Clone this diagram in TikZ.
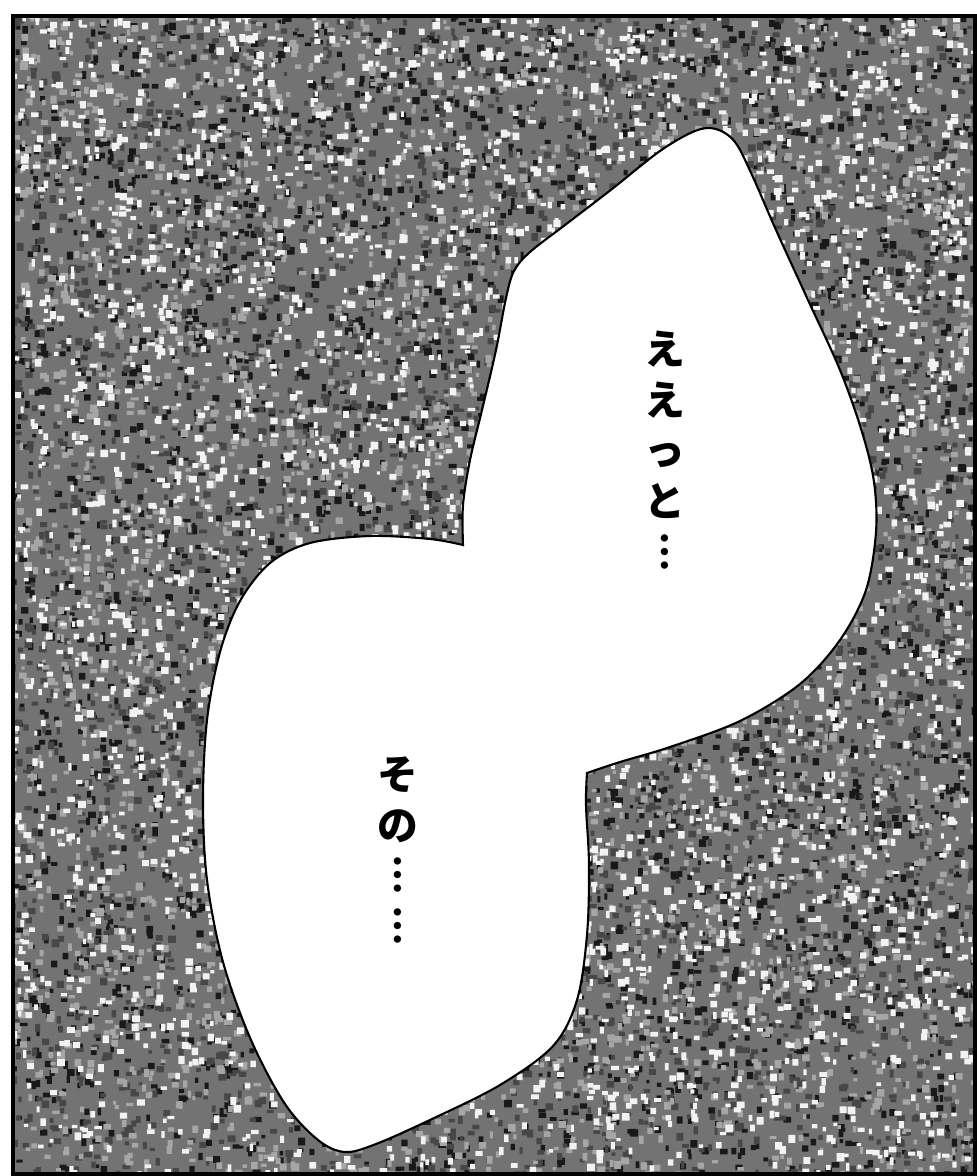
\documentclass[tikz,border=0pt]{standalone}
\usepackage{fontspec}
\newfontfamily\cjkfont{Noto Sans CJK JP}
\usetikzlibrary{calc}
\tikzset{%
  % Specifications for style of panel and bubbles:
        panel/.style = {draw=black, line width=2.2pt, fill=black!55},
        bubble/.style = {draw=black, line width=1.5pt, fill=white},
   speechText/.style = {align=center, inner sep=0pt,
                        font=\cjkfont\bfseries\fontsize{29}{36}\selectfont},
}

\begin{document}
\begin{tikzpicture}[x=0.025cm, y=-0.025cm]
  \useasboundingbox (0,0) rectangle (977,1176);

  % Panel with screen tone
  \coordinate (panelNW) at (13,16);
  \coordinate (panelSE) at (975,1174);
  \fill[panel, draw=none] (panelNW) rectangle (panelSE);
  \begin{scope}
    \clip (panelNW) rectangle (panelSE);
    \pgfmathsetseed{4217}
    \foreach \g in {90,72,35,5}{
      \foreach \k in {1,2,3,4}{
        \fill[black!\g] \foreach \i in {1,...,900}{
          ({10+965*rnd},{13+1161*rnd}) rectangle ++({3+5*rnd},{3+5*rnd})
        };
      }
    }
  \end{scope}
  \draw[panel, fill=none] (panelNW) rectangle (panelSE);

  % Speech bubbles, joined at two pinches
  \coordinate (pinchLeft) at (463,545);
  \coordinate (pinchRight) at (587,773);
  \filldraw[bubble]
    plot[smooth, tension=0.55] coordinates {(463,545) (463,505) (470,460) (482,410)
      (496,350) (506,298) (514,271) (530,252) (565,225) (612,189) (660,151)
      (695,131) (716,129) (735,142) (752,175) (776,230) (808,300) (840,370)
      (862,432) (874,482) (876,532) (866,590) (840,640) (800,684) (740,721)
      (670,747) (620,762) (587,773)}
    -- plot[smooth, tension=0.55] coordinates {(587,773) (586,805) (589,865)
      (587,935) (577,1000) (553,1046) (500,1085) (432,1119) (376,1144)
      (345,1152) (318,1140) (285,1104) (251,1040) (223,962) (207,880)
      (203,800) (207,720) (220,652) (240,601) (270,563) (310,543) (370,536)
      (430,539) (463,545)}
    -- cycle;

  % Vertical lines of speech
  \node (upperText) [speechText] at (665,450)
                    {え\\え\\っ\\と\\︙};
  \node (lowerText) [speechText] at (398,850)
                    {そ\\の\\︙\\︙};
\end{tikzpicture}
\end{document}
